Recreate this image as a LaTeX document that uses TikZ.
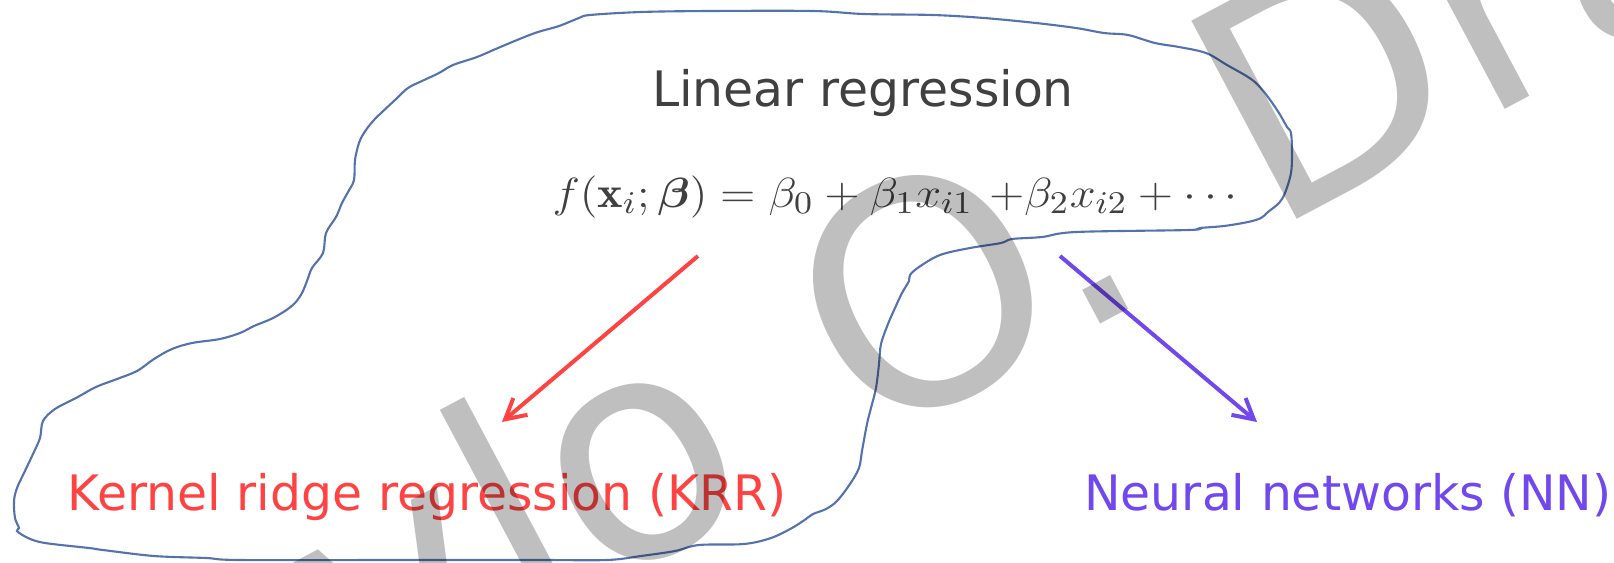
\documentclass[tikz,border=0pt]{standalone}
\usepackage{amsmath}
\usepackage{fontspec}
\usepackage{graphicx}
\newfontfamily\labelfont{DejaVu Sans}
\usetikzlibrary{arrows.meta,positioning}
\definecolor{textgray}{RGB}{64,64,64}
\definecolor{krr}{RGB}{255,66,66}
\definecolor{nn}{RGB}{112,72,238}
\definecolor{blob}{RGB}{84,114,174}

\begin{document}
\begin{tikzpicture}[
  x=0.1mm, y=-0.1mm,
  every node/.style={inner sep=0pt},
  label/.style={font=\labelfont\fontsize{13.9pt}{16pt}\selectfont, anchor=base},
  link/.style={line width=0.4mm, -{Straight Barb[length=2mm,width=2.2mm]}},
  blobline/.style={draw=blob, line width=0.6pt},
  >=Stealth
]
\useasboundingbox (0,0) rectangle (1614,562);

\draw[blobline] plot[smooth cycle, tension=0.55] coordinates {
  (538,32) (522,38) (498,48) (477,57) (453,65) (439,73) (422,81) (408,88)
  (395,100) (374,120) (364,133) (359,143) (355,160) (354,180) (348,192)
  (342,203) (336,217) (326,233) (323,253) (312,268) (307,281) (302,293)
  (295,303) (285,311) (271,319) (254,326) (240,333) (220,339) (192,343)
  (172,349) (154,359) (137,371) (117,379) (96,387) (76,398) (55,409)
  (43,421) (40,438) (33,454) (24,473) (17,488) (14,501) (15,518) (19,528)
  (17,531) (28,538) (45,543) (89,548) (103,550) (154,556) (206,558)
  (240,560) (400,560) (538,560) (607,560) (641,556) (675,551) (699,545)
  (744,544) (771,538) (792,528) (806,519) (813,514) (826,509) (837,501)
  (850,484) (859,468) (862,451) (867,424) (871,408) (876,388) (879,364)
  (881,344) (888,324) (895,308) (902,293) (909,281) (910,275) (919,267)
  (940,255) (970,248) (1001,243) (1012,239) (1042,237) (1076,232)
  (1189,230) (1200,228) (1224,226) (1248,222) (1261,218) (1268,212)
  (1279,203) (1285,193) (1291,173) (1292,153) (1291,133) (1287,127)
  (1279,113) (1268,97) (1258,85) (1248,77) (1227,65) (1206,53) (1179,47)
  (1155,43) (1128,35) (1104,33) (1076,28) (1036,23) (984,18) (933,15)
  (864,14) (813,11) (710,11) (641,12) (590,15) (579,18) (559,26)};

\node[label, text=textgray] (linreg) at (863,106) {Linear regression};
\node[anchor=base, text=textgray, font=\fontsize{12.5pt}{14pt}\selectfont] (model) at (899,207)
  {\scalebox{1.1}[1]{$f(\mathbf{x}_i;\boldsymbol{\beta}) = \beta_0 + \beta_1 x_{i1}\ {+}\beta_2 x_{i2} + \cdots$}};
\node[label, text=krr] (krrlabel) at (427,510) {Kernel ridge regression (KRR)};
\node[label, text=nn] (nnlabel) at (1348,510) {Neural networks (NN)};

\coordinate (krrfrom) at (698,256);
\coordinate (krrto) at (502,422);
\coordinate (nnfrom) at (1060,256);
\coordinate (nnto) at (1257,422);
\draw[link, draw=krr] (krrfrom) -- (krrto);
\draw[link, draw=nn] (nnfrom) -- (nnto);

% watermark
\begin{scope}
  \clip (0,0) rectangle (1614,562);
  \node[anchor=base west, rotate=28, text=black, opacity=0.25,
        font=\labelfont\fontsize{87.6pt}{100pt}\selectfont] (mark) at (1270,234)
    {\llap{Pavlo\hspace{11.6mm}O.\hspace{12.8mm}}Dral};
\end{scope}

\end{tikzpicture}
\end{document}
